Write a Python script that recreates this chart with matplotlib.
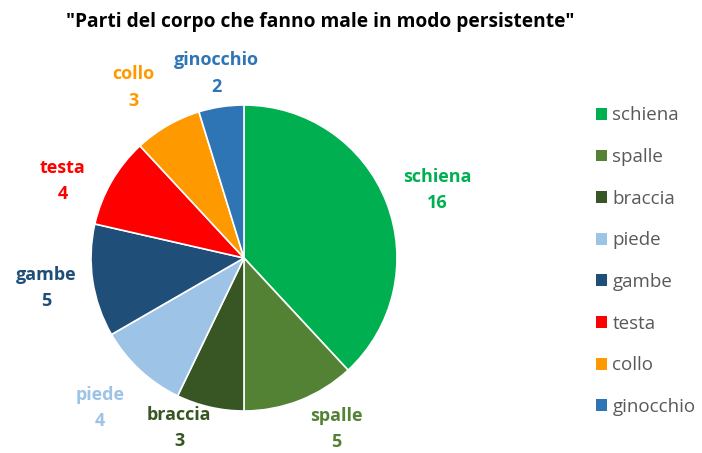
import numpy as np
import matplotlib
matplotlib.use("Agg")
import matplotlib.pyplot as plt
from matplotlib.patches import Patch

categories = ["schiena", "spalle", "braccia", "piede", "gambe", "testa", "collo", "ginocchio"]
values = [16, 5, 3, 4, 5, 4, 3, 2]
title = '"Parti del corpo che fanno male in modo persistente"'

colors = ["#00B050", "#548235", "#375623", "#9DC3E6", "#1F4E79", "#FF0000", "#FF9900", "#2E75B6"]
label_dist = [1.34, 1.27, 1.19, 1.36, 1.31, 1.29, 1.33, 1.22]
label_dang = [2, -7, 8, 1, 0, -7, -3, 0]

plt.rcParams['font.family'] = ['Open Sans', 'DejaVu Sans']

W, H = 702, 453
fig = plt.figure(figsize=(W / 100, H / 100), dpi=100)
ax = fig.add_axes([0, 0, 1, 1])

cx, cy, R = 244, H - 258, 153
wedges, _ = ax.pie(values, colors=colors, startangle=90, counterclock=False,
                   center=(cx, cy), radius=R, frame=True,
                   wedgeprops=dict(edgecolor='white', linewidth=1.2))
ax.set_xlim(0, W)
ax.set_ylim(0, H)
ax.set_aspect('equal')
ax.axis('off')

total = sum(values)
cum = 0
for i, (c, v) in enumerate(zip(categories, values)):
    mid = (cum + v / 2) / total * 360 + label_dang[i]
    cum += v
    a = np.deg2rad(mid)
    x = cx + label_dist[i] * R * np.sin(a)
    y = cy + label_dist[i] * R * np.cos(a)
    ax.text(x, y, f"{c}\n{v}", ha='center', va='center', color=colors[i],
            fontsize=13, fontweight='bold', linespacing=1.6)

fig.text(320 / W, 1 - 22 / H, title, ha='center', va='center', fontsize=13.8,
         fontweight='bold', color='black')

handles = [Patch(facecolor=col, edgecolor='none') for col in colors]
leg = fig.legend(handles, categories, loc='upper left', bbox_to_anchor=(588 / W, 1 - 99 / H),
                 frameon=False, fontsize=13.5, handlelength=0.6, handleheight=0.6,
                 handletextpad=0.3, labelspacing=1.26, borderaxespad=0)
for t in leg.get_texts():
    t.set_color('#595959')

fig.savefig("out.png", dpi=100)
